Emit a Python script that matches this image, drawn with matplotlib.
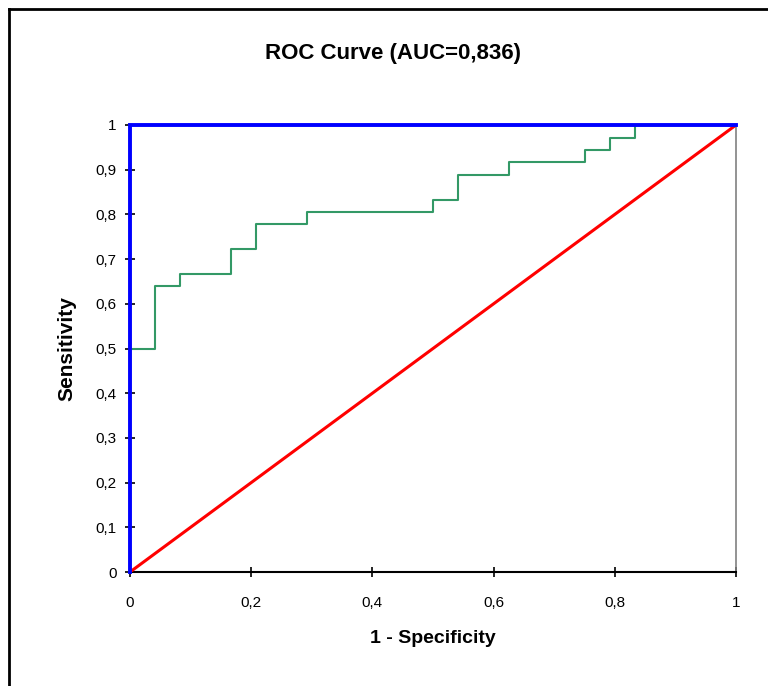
import matplotlib
matplotlib.use("Agg")
import matplotlib.pyplot as plt
from matplotlib.lines import Line2D
from matplotlib.ticker import FixedLocator, FixedFormatter

plt.rcParams['font.family'] = ['Liberation Sans', 'DejaVu Sans']

# ROC step data (1 - specificity, sensitivity)
fpr = [0, 0, 0.042, 0.083, 0.167, 0.208, 0.292, 0.5, 0.542, 0.625, 0.75, 0.792, 0.833, 1]
tpr = [0, 0.5, 0.639, 0.667, 0.722, 0.778, 0.806, 0.833, 0.889, 0.917, 0.944, 0.972, 1, 1]

# perfect classifier and random line
perfect_x = [0, 0, 1]
perfect_y = [0, 1, 1]
random_x = [0, 1]
random_y = [0, 1]

x_ticks = [0, 0.2, 0.4, 0.6, 0.8, 1]
x_tick_labels = ['0', '0,2', '0,4', '0,6', '0,8', '1']
y_ticks = [0, 0.1, 0.2, 0.3, 0.4, 0.5, 0.6, 0.7, 0.8, 0.9, 1]
y_tick_labels = ['0', '0,1', '0,2', '0,3', '0,4', '0,5', '0,6', '0,7', '0,8', '0,9', '1']

title = 'ROC Curve (AUC=0,836)'
xlabel = '1 - Specificity'
ylabel = 'Sensitivity'

fig = plt.figure(figsize=(7.68, 6.86), dpi=100)
ax = fig.add_axes([130/768, 1 - 572/686, (736-130)/768, (572-125)/686])

ax.plot(random_x, random_y, color='#ff0000', lw=2.2, zorder=3, solid_capstyle='butt')
ax.step(fpr, tpr, where='post', color='#339966', lw=1.5, zorder=4)
ax.plot(perfect_x, perfect_y, color='#0000ff', lw=2.8, zorder=5, clip_on=False,
        solid_joinstyle='miter', solid_capstyle='projecting')

ax.set_xlim(0, 1)
ax.set_ylim(0, 1)
ax.xaxis.set_major_locator(FixedLocator(x_ticks))
ax.xaxis.set_major_formatter(FixedFormatter(x_tick_labels))
ax.yaxis.set_major_locator(FixedLocator(y_ticks))
ax.yaxis.set_major_formatter(FixedFormatter(y_tick_labels))
ax.tick_params(direction='inout', length=7, width=1.2, labelsize=11, color='black')
ax.tick_params(axis='x', pad=14)
ax.tick_params(axis='y', pad=6)

for s in ['left', 'bottom']:
    ax.spines[s].set_linewidth(1.5)
    ax.spines[s].set_color('black')
ax.spines['right'].set_color('#808080')
ax.spines['right'].set_linewidth(1.2)
ax.spines['top'].set_visible(False)

ax.set_xlabel(xlabel, fontsize=14, fontweight='bold', labelpad=14)
ax.set_ylabel(ylabel, fontsize=15, fontweight='bold', labelpad=14)
fig.text(393/768, 1 - 54/686, title, fontsize=16, fontweight='bold', ha='center', va='center')

# figure frame (left and top edges visible)
fig.add_artist(Line2D([9/768, 9/768], [0, 1 - 9/686], transform=fig.transFigure, color='black', lw=2))
fig.add_artist(Line2D([9/768, 1], [1 - 9/686, 1 - 9/686], transform=fig.transFigure, color='black', lw=2))

fig.savefig('out.png', dpi=100)
